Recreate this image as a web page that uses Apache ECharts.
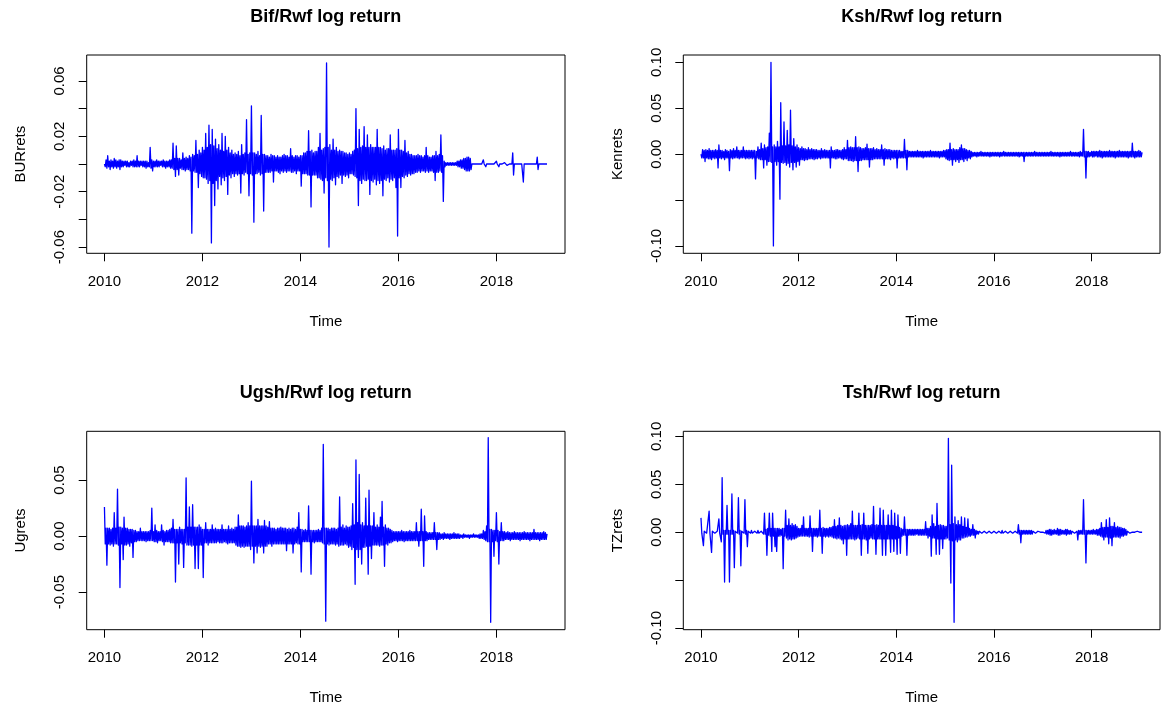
<!DOCTYPE html>
<html>
<head>
<meta charset="utf-8">
<title>log returns</title>
<script src="https://cdn.jsdelivr.net/npm/echarts@6/dist/echarts.min.js"></script>
<style>
  html, body { margin: 0; padding: 0; background: #fff; }
  #chart { width: 1168px; height: 709px; }
</style>
</head>
<body>
<div id="chart"></div>
<script>
// time axis of the series: 60 observations per year starting 2010.0
const startYear = 2010;
const perYear = 60;
const yearTicks = [2010, 2012, 2014, 2016, 2018];

// log returns, in units of 0.001 (one row = 1/3 year)
const burRets = [
  0, -2, 3, -3, 6, -2, 2, -4, 3, -2, 2, -3, 4, -2, 3, -3, 2, -2, 3, -4,
  3, -2, 2, -2, 2, -1, 2, -2, 2, -2, 1, -2, 2, -1, 2, -2, 3, -2, 2, -2,
  6, -2, 2, -2, 2, -1, 2, -2, 2, -2, 2, -3, 2, -2, 1, -2, 12, -3, 3, -5,
  2, -2, 2, -2, 3, -2, 2, -2, 2, -1, 2, -2, 3, -2, 2, -3, 2, -2, 2, -2,
  3, -3, 3, -3, 15, -4, 4, -9, 13, -4, 4, -8, 4, -3, 3, -4, 8, -4, 4, -5,
  5, -4, 4, -4, 6, -5, 5, -50, 7, -5, 6, -6, 17, -6, 7, -17, 10, -7, 8, -9,
  12, -10, 10, -10, 22, -11, 12, -14, 28, -12, 14, -57, 25, -14, 13, -30, 18, -12, 11, -18,
  14, -9, 10, -15, 22, -10, 9, -12, 20, -9, 10, -22, 12, -8, 8, -10, 10, -7, 7, -9,
  8, -7, 7, -8, 9, -7, 6, -21, 14, -7, 7, -8, 8, -6, 32, -7, 7, -23, 8, -7,
  42, -8, 8, -42, 8, -7, 7, -7, 9, -6, 6, -8, 35, -7, 7, -34, 7, -6, 6, -6,
  6, -6, 5, -6, 7, -5, 6, -13, 6, -5, 5, -5, 6, -6, 5, -7, 5, -5, 6, -6,
  7, -5, 6, -6, 6, -5, 5, -5, 11, -6, 6, -6, 5, -5, 6, -7, 6, -5, 5, -5,
  6, -16, 6, -7, 8, -7, 8, -7, 9, -8, 24, -8, 9, -31, 10, -8, 8, -8, 9, -8,
  9, -10, 12, -10, 22, -11, 10, -12, 11, -21, 12, -10, 73, -12, 12, -60, 14, -11, 10, -12,
  18, -10, 10, -15, 12, -9, 9, -10, 10, -8, 9, -14, 9, -8, 8, -9, 8, -8, 7, -10,
  8, -7, 7, -7, 9, -8, 10, -9, 40, -10, 11, -30, 25, -12, 12, -14, 13, -11, 27, -12,
  12, -12, 21, -11, 12, -22, 14, -12, 12, -13, 12, -11, 12, -15, 25, -12, 12, -14, 12, -12,
  11, -23, 13, -11, 10, -12, 11, -10, 11, -13, 21, -11, 10, -12, 10, -10, 10, -17, 11, -52,
  25, -10, 10, -17, 10, -9, 9, -10, 17, -8, 8, -9, 9, -7, 7, -8, 7, -7, 6, -7,
  6, -6, 6, -6, 7, -5, 6, -6, 6, -5, 5, -5, 6, -6, 12, -5, 6, -6, 5, -5,
  5, -5, 6, -6, 6, -12, 9, -6, 6, -6, 7, -5, 21, -6, 6, -27, 2, -2, 1, -1,
  1, -1, 1, -1, 1, -1, 1, -1, 1, -1, 1, -1, 2, -2, 2, -2, 3, -3, 3, -3,
  4, -4, 4, -5, 5, -5, 5, -5, 4, -4, 0, 0, 0, 0, 0, 0, 0, 0, 0, 0,
  0, 0, 0, 0, 3, 0, 0, -2, 0, 0, 0, 0, 1, 0, 0, -1, 0, 0, 0, 0,
  2, 0, 0, -2, 0, 0, 0, 0, 0, 0, 1, 0, 0, -1, 0, 0, 0, 0, 0, 0,
  8, -8, 0, 0, 0, 0, 0, 0, 0, 0, 0, 0, 0, -13, 0, 0, 0, 0, 0, 0,
  0, 0, 0, 0, 1, -1, 0, 0, 0, 0, 5, -4, 0, 0, 0, 0, 0, 0, 0, 0,
  0, 0, 0
];

const kenRets = [
  0, -4, 5, -4, 4, -8, 5, -4, 4, -5, 6, -5, 4, -6, 4, -4, 4, -5, 5, -4,
  4, -15, 10, -4, 4, -5, 4, -4, 3, -6, 5, -4, 4, -4, 3, -18, 5, -4, 4, -5,
  6, -4, 4, -4, 8, -4, 4, -5, 4, -4, 4, -4, 8, -4, 4, -5, 4, -4, 4, -5,
  4, -4, 4, -5, 4, -4, 4, -27, 3, -4, 8, -5, 5, -6, 12, -6, 6, -15, 10, -6,
  7, -12, 8, -8, 23, -8, 100, -9, 8, -100, 10, -8, 8, -12, 14, -8, 8, -49, 56, -9,
  9, -10, 35, -9, 9, -12, 26, -10, 10, -14, 48, -9, 9, -17, 17, -9, 8, -14, 10, -8,
  7, -12, 6, -6, 8, -6, 6, -7, 6, -6, 5, -6, 7, -5, 5, -5, 6, -5, 5, -6,
  5, -5, 5, -5, 4, -4, 4, -5, 6, -4, 4, -4, 5, -4, 4, -4, 4, -4, 4, -15,
  8, -4, 4, -4, 4, -5, 5, -5, 5, -4, 4, -4, 4, -5, 5, -6, 7, -5, 5, -5,
  15, -7, 7, -7, 8, -7, 7, -8, 7, -7, 19, -7, 7, -19, 8, -7, 7, -7, 6, -6,
  6, -6, 7, -6, 11, -6, 6, -14, 6, -6, 6, -6, 7, -5, 5, -5, 6, -5, 5, -5,
  5, -5, 10, -5, 5, -12, 6, -5, 5, -5, 5, -5, 5, -6, 4, -4, 4, -5, 4, -4,
  4, -15, 4, -4, 4, -4, 3, -4, 3, -4, 16, -4, 4, -17, 4, -3, 3, -3, 3, -3,
  3, -3, 3, -3, 3, -3, 4, -3, 3, -3, 3, -3, 3, -4, 3, -3, 3, -3, 3, -3,
  3, -3, 4, -3, 3, -3, 3, -3, 3, -3, 3, -3, 3, -4, 3, -3, 3, -3, 4, -3,
  4, -5, 5, -6, 5, -7, 12, -6, 5, -12, 6, -6, 5, -8, 5, -6, 5, -9, 7, -6,
  10, -6, 6, -8, 6, -5, 5, -7, 4, -4, 4, -5, 3, -3, 2, -2, 2, -2, 2, -3,
  2, -2, 2, -2, 3, -2, 2, -2, 2, -2, 2, -2, 2, -2, 2, -3, 2, -2, 2, -2,
  2, -2, 2, -2, 2, -2, 2, -3, 2, -2, 2, -2, 3, -2, 2, -2, 2, -2, 2, -2,
  2, -2, 2, -2, 2, -2, 2, -2, 2, -2, 2, -3, 2, -2, 2, -2, 2, -8, 2, -2,
  2, -2, 2, -2, 2, -2, 2, -2, 2, -2, 3, -2, 2, -2, 2, -2, 2, -2, 2, -2,
  2, -2, 2, -2, 2, -2, 2, -2, 2, -2, 3, -2, 2, -2, 2, -2, 2, -2, 2, -2,
  2, -3, 2, -2, 2, -2, 2, -2, 2, -2, 2, -2, 2, -2, 3, -2, 2, -2, 2, -2,
  2, -2, 2, -2, 2, -3, 3, -2, 2, -2, 27, -3, 3, -26, 3, -3, 3, -3, 2, -2,
  3, -3, 3, -3, 3, -2, 3, -3, 3, -3, 4, -3, 3, -4, 3, -3, 3, -3, 3, -3,
  3, -3, 4, -3, 3, -3, 3, -3, 3, -4, 3, -3, 3, -3, 4, -3, 3, -3, 3, -3,
  3, -3, 3, -3, 3, -4, 3, -3, 3, -3, 12, -3, 3, -4, 3, -3, 3, -3, 4, -3,
  3, -3, 2
];

const ugRets = [
  26, -7, 7, -26, 7, -7, 7, -8, 6, -7, 7, -9, 21, -7, 7, -7, 42, -8, 8, -46,
  8, -7, 7, -21, 17, -8, 7, -8, 7, -7, 6, -9, 6, -6, 6, -19, 5, -5, 5, -5,
  4, -4, 4, -4, 7, -4, 4, -4, 4, -4, 4, -5, 4, -4, 4, -4, 5, -4, 25, -4,
  4, -5, 10, -5, 5, -6, 4, -4, 4, -4, 10, -5, 5, -8, 4, -5, 5, -5, 5, -5,
  6, -6, 7, -6, 15, -6, 6, -41, 6, -6, 6, -25, 8, -6, 6, -7, 6, -28, 6, -6,
  52, -8, 8, -8, 26, -8, 8, -9, 28, -8, 8, -29, 8, -8, 8, -29, 10, -8, 8, -8,
  6, -37, 6, -6, 12, -6, 6, -8, 6, -6, 6, -6, 10, -6, 6, -6, 7, -6, 6, -5,
  6, -6, 6, -6, 10, -6, 6, -5, 6, -6, 6, -7, 9, -6, 6, -6, 7, -6, 6, -6,
  8, -8, 8, -9, 19, -9, 9, -10, 9, -9, 9, -10, 8, -9, 9, -9, 12, -9, 9, -12,
  49, -9, 9, -24, 9, -9, 9, -15, 15, -9, 9, -10, 9, -9, 9, -15, 14, -9, 9, -9,
  8, -7, 13, -7, 7, -9, 7, -7, 7, -7, 6, -7, 7, -7, 7, -7, 8, -7, 7, -7,
  7, -7, 7, -13, 6, -7, 7, -7, 6, -7, 7, -15, 7, -7, 6, -6, 8, -7, 21, -7,
  6, -32, 6, -5, 5, -5, 6, -5, 5, -5, 27, -5, 5, -34, 5, -5, 5, -6, 5, -5,
  5, -5, 6, -5, 5, -5, 7, -6, 82, -7, 7, -76, 7, -7, 7, -8, 6, -7, 7, -7,
  7, -7, 7, -8, 6, -7, 7, -9, 35, -8, 8, -8, 10, -8, 7, -7, 9, -8, 8, -10,
  8, -9, 9, -12, 29, -10, 10, -43, 68, -12, 12, -19, 55, -12, 10, -25, 12, -10, 9, -10,
  34, -9, 9, -34, 41, -9, 9, -20, 9, -8, 21, -8, 8, -8, 10, -8, 8, -9, 17, -8,
  31, -8, 8, -27, 10, -7, 7, -8, 7, -6, 6, -6, 5, -5, 4, -4, 4, -4, 4, -5,
  4, -4, 4, -4, 5, -4, 4, -5, 4, -4, 4, -4, 4, -4, 5, -4, 4, -4, 4, -4,
  4, -4, 12, -4, 4, -9, 4, -4, 24, -4, 4, -27, 18, -4, 4, -4, 3, -3, 3, -3,
  3, -3, 3, -3, 12, -3, 3, -12, 3, -3, 3, -3, 2, -2, 2, -3, 3, -2, 2, -2,
  2, -2, 2, -3, 2, -2, 2, -2, 3, -2, 2, -2, 2, -2, 2, -2, 1, -1, 1, -2,
  2, -1, 1, -1, 1, -1, 1, -2, 1, -1, 1, -1, 2, -1, 1, -1, 1, -1, 1, -2,
  2, -2, 2, -2, 5, -3, 4, -4, 9, -5, 88, -5, 6, -77, 6, -5, 5, -18, 5, -4,
  21, -5, 5, -25, 4, -4, 12, -4, 4, -4, 4, -3, 3, -3, 4, -3, 3, -4, 3, -3,
  3, -3, 4, -3, 3, -3, 3, -3, 3, -4, 3, -3, 3, -3, 4, -3, 3, -3, 3, -3,
  3, -4, 3, -3, 3, -3, 6, -3, 3, -3, 3, -3, 3, -4, 3, -3, 3, -3, 4, -3,
  3, -3, 2
];

const tzRets = [
  15, -1, 1, -14, 1, -1, 1, -1, 1, -1, 22, -1, 1, -21, 1, -1, 1, -1, 1, -1,
  1, -1, 14, -1, 1, -10, 57, -2, 2, -52, 2, -2, 28, -2, 2, -52, 2, -2, 40, -2,
  2, -37, 1, -1, 2, -1, 36, -2, 2, -35, 1, -1, 1, -1, 34, -2, 2, -15, 1, -1,
  1, -1, 2, -1, 1, -2, 1, -1, 1, -1, 2, -1, 1, -1, 1, -1, 1, -2, 20, -2,
  3, -24, 4, -3, 20, -4, 4, -20, 20, -4, 4, -15, 4, -20, 4, -4, 4, -4, 3, -3,
  4, -38, 4, -4, 23, -6, 7, -8, 14, -7, 7, -8, 9, -7, 7, -7, 8, -6, 6, -5,
  4, -4, 4, -4, 7, -4, 16, -4, 4, -4, 4, -4, 4, -5, 17, -4, 4, -20, 4, -4,
  4, -4, 4, -5, 4, -4, 23, -4, 4, -22, 5, -4, 4, -5, 4, -4, 4, -5, 5, -4,
  5, -5, 6, -6, 13, -6, 6, -7, 7, -6, 15, -7, 7, -8, 6, -12, 7, -7, 7, -24,
  8, -7, 7, -7, 9, -7, 22, -7, 7, -8, 7, -7, 7, -6, 20, -7, 7, -24, 8, -7,
  20, -7, 7, -8, 7, -22, 7, -7, 7, -6, 8, -7, 27, -7, 7, -23, 8, -7, 7, -7,
  25, -7, 7, -24, 23, -7, 7, -24, 7, -7, 18, -7, 7, -21, 23, -7, 7, -20, 20, -7,
  6, -23, 18, -6, 5, -22, 4, -4, 3, -3, 16, -3, 3, -24, 3, -3, 3, -3, 3, -3,
  3, -3, 3, -3, 3, -2, 3, -3, 3, -3, 3, -3, 3, -3, 3, -3, 11, -3, 4, -6,
  4, -4, 6, -25, 18, -6, 9, -6, 6, -23, 30, -7, 7, -23, 8, -7, 7, -17, 7, -7,
  6, -7, 6, -6, 98, -8, 8, -53, 70, -9, 9, -94, 16, -8, 8, -10, 12, -8, 8, -8,
  16, -6, 6, -6, 15, -5, 5, -5, 14, -4, 4, -4, 3, -3, 8, -3, 3, -6, 2, -2,
  1, -2, 1, -1, 1, -1, 1, -1, 1, -1, 1, -1, 1, -1, 1, -1, 1, -1, 1, -1,
  1, -1, 1, -1, 1, -1, 1, -1, 1, -1, 2, -1, 1, -2, 1, -1, 1, -1, 1, -1,
  1, -1, 1, -1, 1, -1, 1, -1, 1, -1, 8, -2, 2, -11, 2, -2, 2, -2, 2, -2,
  2, -2, 2, -2, 2, -2, 2, -2, 1, -1, 1, -1, 1, -1, 1, -1, 0, 0, 0, 0,
  0, 0, 1, -1, 2, -2, 2, -2, 3, -3, 3, -3, 2, -2, 3, -2, 2, -2, 4, -3,
  3, -3, 3, -2, 2, -2, 2, -2, 3, -3, 3, -2, 2, -2, 2, -2, 1, -1, 1, -1,
  1, -1, 1, -8, 2, -2, 2, -2, 2, -2, 34, -2, 2, -32, 2, -2, 2, -2, 2, -2,
  2, -2, 3, -2, 2, -2, 3, -3, 3, -3, 4, -4, 10, -5, 5, -8, 5, -5, 13, -5,
  5, -12, 15, -6, 6, -14, 6, -5, 10, -5, 5, -5, 6, -5, 5, -6, 5, -4, 4, -4,
  4, -3, 3, -3, 1, -1, 1, -1, 1, -1, 0, 0, 0, 0, 1, -1, 1, -1, 0, 0,
  0, 0, 0
];

// y ticks and the subset of them that R managed to label
const burTicks = [-0.06, -0.04, -0.02, 0, 0.02, 0.04, 0.06];
const burLabels = [-0.06, -0.02, 0.02, 0.06];
const kenTicks = [-0.10, -0.05, 0, 0.05, 0.10];
const kenLabels = [-0.10, 0, 0.05, 0.10];
const ugTicks = [-0.05, 0, 0.05];
const ugLabels = [-0.05, 0, 0.05];
const tzTicks = [-0.10, -0.05, 0, 0.05, 0.10];
const tzLabels = [-0.10, 0, 0.05, 0.10];

const panels = [
  { title: 'Bif/Rwf log return', ylab: 'BURrets', values: burRets, yMin: -0.0645, yMax: 0.0787, ticks: burTicks, labels: burLabels },
  { title: 'Ksh/Rwf log return', ylab: 'Kenrets', values: kenRets, yMin: -0.108, yMax: 0.108, ticks: kenTicks, labels: kenLabels },
  { title: 'Ugsh/Rwf log return', ylab: 'Ugrets', values: ugRets, yMin: -0.0836, yMax: 0.0936, ticks: ugTicks, labels: ugLabels },
  { title: 'Tsh/Rwf log return', ylab: 'TZrets', values: tzRets, yMin: -0.1017, yMax: 0.1053, ticks: tzTicks, labels: tzLabels }
];

// plot boxes (px)
const boxes = [
  { left: 86.7, top: 55, width: 478.3, height: 198.3 },
  { left: 683.3, top: 55, width: 476.7, height: 198.3 },
  { left: 86.7, top: 431.3, width: 478.3, height: 198.4 },
  { left: 683.3, top: 431.3, width: 476.7, height: 198.4 }
];

const font = '"Liberation Sans", Arial, Helvetica, sans-serif';
const black = { color: '#000', width: 1 };
const txt = { fontFamily: font, fontSize: 15, color: '#000' };

const chart = echarts.init(document.getElementById('chart'), null, { renderer: 'canvas' });

chart.setOption({
  animation: false,
  backgroundColor: '#fff',
  textStyle: { fontFamily: font },
  title: panels.map((p, k) => ({
    text: p.title,
    left: boxes[k].left + boxes[k].width / 2,
    top: boxes[k].top - 47,
    textAlign: 'center',
    padding: 0,
    textStyle: { fontFamily: font, fontSize: 18, fontWeight: 'bold', color: '#000' }
  })),
  grid: boxes.map(b => ({
    left: b.left, top: b.top, width: b.width, height: b.height,
    show: true, borderColor: '#000', borderWidth: 1, backgroundColor: 'transparent'
  })),
  xAxis: panels.map((p, k) => ({
    gridIndex: k,
    type: 'value',
    min: 2009.638,
    max: 2019.4,
    axisLine: { show: false, onZero: false },
    splitLine: { show: false },
    axisTick: { show: true, customValues: yearTicks, length: 8, lineStyle: black },
    axisLabel: { customValues: yearTicks, margin: 21, formatter: v => String(v), ...txt },
    name: 'Time',
    nameLocation: 'middle',
    nameGap: 61,
    nameTextStyle: txt
  })),
  yAxis: panels.map((p, k) => ({
    gridIndex: k,
    type: 'value',
    min: p.yMin,
    max: p.yMax,
    axisLine: { show: false, onZero: false },
    splitLine: { show: false },
    axisTick: { show: true, customValues: p.ticks, length: 8, lineStyle: black },
    axisLabel: {
      customValues: p.labels,
      rotate: 90,
      margin: 19,
      formatter: v => v.toFixed(2),
      ...txt
    },
    name: p.ylab,
    nameLocation: 'middle',
    nameRotate: 90,
    nameGap: 58,
    nameTextStyle: txt
  })),
  series: panels.map((p, k) => ({
    type: 'line',
    xAxisIndex: k,
    yAxisIndex: k,
    symbol: 'none',
    silent: true,
    data: p.values.map((v, i) => [startYear + i / perYear, v / 1000]),
    lineStyle: { color: '#0000ff', width: 1.3, join: 'round' },
    itemStyle: { color: '#0000ff' }
  }))
});
</script>
</body>
</html>
